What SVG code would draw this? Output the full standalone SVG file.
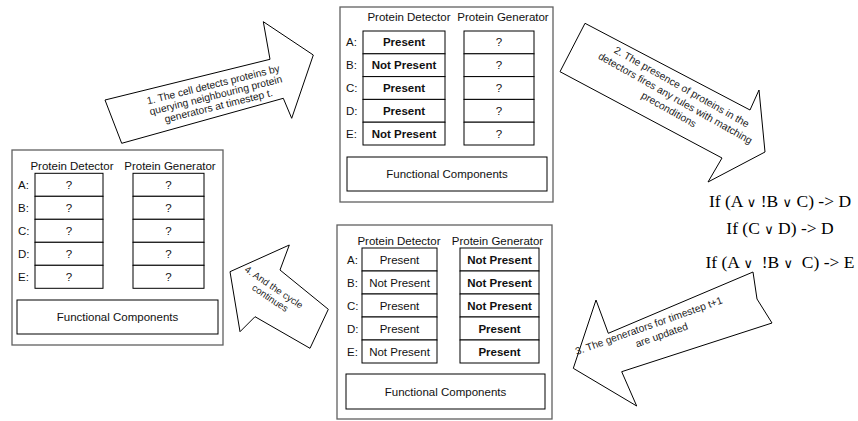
<svg xmlns="http://www.w3.org/2000/svg" width="858" height="421" viewBox="0 0 858 421">
<style>
.outer{fill:#fff;stroke:#606060;stroke-width:1.3}
.cell{fill:#fff;stroke:#000;stroke-width:1}
.t{font-family:"Liberation Sans",Arial,sans-serif;font-size:11.5px;fill:#111}
.c{text-anchor:middle}
.b{font-weight:bold}
.arrow{fill:#fff;stroke:#000;stroke-width:1;stroke-linejoin:miter}
.at{font-family:"Liberation Sans",Arial,sans-serif;fill:#222;text-anchor:middle}
.rule{font-family:"Liberation Serif","Times New Roman",serif;font-size:17.5px;fill:#000;text-anchor:middle;white-space:pre}
.or{font-family:"DejaVu Sans",sans-serif;font-size:13px}
</style>
<rect width="858" height="421" fill="#fff"/>

<g id="panel-left">
<rect class="outer" x="12" y="150" width="211" height="195"/>
<text class="t c" x="72" y="170">Protein Detector</text>
<text class="t c" x="170" y="170">Protein Generator</text>
<rect class="cell" x="35" y="173.3" width="68" height="23"/>
<rect class="cell" x="35" y="196.3" width="68" height="23"/>
<rect class="cell" x="35" y="219.3" width="68" height="23"/>
<rect class="cell" x="35" y="242.3" width="68" height="23"/>
<rect class="cell" x="35" y="265.3" width="68" height="23"/>
<rect class="cell" x="133" y="173.3" width="71" height="23"/>
<rect class="cell" x="133" y="196.3" width="71" height="23"/>
<rect class="cell" x="133" y="219.3" width="71" height="23"/>
<rect class="cell" x="133" y="242.3" width="71" height="23"/>
<rect class="cell" x="133" y="265.3" width="71" height="23"/>
<text class="t" x="18" y="189">A:</text>
<text class="t" x="18" y="212">B:</text>
<text class="t" x="18" y="235">C:</text>
<text class="t" x="18" y="258">D:</text>
<text class="t" x="18" y="281">E:</text>
<text class="t c" x="69" y="189">?</text>
<text class="t c" x="69" y="212">?</text>
<text class="t c" x="69" y="235">?</text>
<text class="t c" x="69" y="258">?</text>
<text class="t c" x="69" y="281">?</text>
<text class="t c" x="168.5" y="189">?</text>
<text class="t c" x="168.5" y="212">?</text>
<text class="t c" x="168.5" y="235">?</text>
<text class="t c" x="168.5" y="258">?</text>
<text class="t c" x="168.5" y="281">?</text>
<rect class="cell" x="17" y="300" width="201" height="34"/>
<text class="t c" x="117.5" y="321">Functional Components</text>
</g>

<g id="panel-top">
<rect class="outer" x="340" y="7" width="213" height="195"/>
<text class="t c" x="409" y="21">Protein Detector</text>
<text class="t c" x="503" y="21">Protein Generator</text>
<rect class="cell" x="363" y="31" width="82" height="22.8"/>
<rect class="cell" x="363" y="53.8" width="82" height="22.8"/>
<rect class="cell" x="363" y="76.6" width="82" height="22.8"/>
<rect class="cell" x="363" y="99.4" width="82" height="22.8"/>
<rect class="cell" x="363" y="122.2" width="82" height="22.8"/>
<rect class="cell" x="464" y="31" width="70" height="22.8"/>
<rect class="cell" x="464" y="53.8" width="70" height="22.8"/>
<rect class="cell" x="464" y="76.6" width="70" height="22.8"/>
<rect class="cell" x="464" y="99.4" width="70" height="22.8"/>
<rect class="cell" x="464" y="122.2" width="70" height="22.8"/>
<text class="t" x="346" y="46.4">A:</text>
<text class="t" x="346" y="69.2">B:</text>
<text class="t" x="346" y="92">C:</text>
<text class="t" x="346" y="114.8">D:</text>
<text class="t" x="346" y="137.6">E:</text>
<text class="t c b" x="404" y="46.4">Present</text>
<text class="t c b" x="404" y="69.2">Not Present</text>
<text class="t c b" x="404" y="92">Present</text>
<text class="t c b" x="404" y="114.8">Present</text>
<text class="t c b" x="404" y="137.6">Not Present</text>
<text class="t c" x="499" y="46.4">?</text>
<text class="t c" x="499" y="69.2">?</text>
<text class="t c" x="499" y="92">?</text>
<text class="t c" x="499" y="114.8">?</text>
<text class="t c" x="499" y="137.6">?</text>
<rect class="cell" x="347" y="157" width="200" height="34"/>
<text class="t c" x="447" y="178">Functional Components</text>
</g>

<g id="panel-bottom">
<rect class="outer" x="337" y="225" width="215" height="194"/>
<text class="t c" x="399" y="245">Protein Detector</text>
<text class="t c" x="497.5" y="245">Protein Generator</text>
<rect class="cell" x="362" y="248" width="75" height="23"/>
<rect class="cell" x="362" y="271" width="75" height="23"/>
<rect class="cell" x="362" y="294" width="75" height="23"/>
<rect class="cell" x="362" y="317" width="75" height="23"/>
<rect class="cell" x="362" y="340" width="75" height="23"/>
<rect class="cell" x="460" y="248" width="79" height="23"/>
<rect class="cell" x="460" y="271" width="79" height="23"/>
<rect class="cell" x="460" y="294" width="79" height="23"/>
<rect class="cell" x="460" y="317" width="79" height="23"/>
<rect class="cell" x="460" y="340" width="79" height="23"/>
<text class="t" x="347" y="263.5">A:</text>
<text class="t" x="347" y="286.5">B:</text>
<text class="t" x="347" y="309.5">C:</text>
<text class="t" x="347" y="332.5">D:</text>
<text class="t" x="347" y="355.5">E:</text>
<text class="t c" x="399.5" y="263.5">Present</text>
<text class="t c" x="399.5" y="286.5">Not Present</text>
<text class="t c" x="399.5" y="309.5">Present</text>
<text class="t c" x="399.5" y="332.5">Present</text>
<text class="t c" x="399.5" y="355.5">Not Present</text>
<text class="t c b" x="499.5" y="263.5">Not Present</text>
<text class="t c b" x="499.5" y="286.5">Not Present</text>
<text class="t c b" x="499.5" y="309.5">Not Present</text>
<text class="t c b" x="499.5" y="332.5">Present</text>
<text class="t c b" x="499.5" y="355.5">Present</text>
<rect class="cell" x="346" y="374" width="199" height="35"/>
<text class="t c" x="445.5" y="395.5">Functional Components</text>
</g>

<g id="rules">
<text class="rule" x="780" y="207">If (A <tspan class="or">∨</tspan> !B <tspan class="or">∨</tspan> C) -&gt; D</text>
<text class="rule" x="780" y="234">If (C <tspan class="or">∨</tspan> D) -&gt; D</text>
<text class="rule" x="780" y="268">If (A <tspan class="or">∨</tspan>  !B <tspan class="or">∨</tspan>  C) -&gt; E</text>
</g>

<g id="connectors">
<g id="arrow-1">
<polygon class="arrow" points="105,100 270,59.3 263.3,21.7 313.3,55 291.7,118.3 283.3,98.3 121.7,143.3"/>
<g transform="translate(214,88) rotate(-14)">
<text class="at" font-size="10.3" x="0" y="0">1. The cell detects proteins by</text>
<text class="at" font-size="10.3" x="0" y="11">querying neighbouring protein</text>
<text class="at" font-size="10.3" x="0" y="22">generators at timestep t.</text>
</g>
</g>
<g id="arrow-2">
<polygon class="arrow" points="585,23.3 750,110 759,90 765,152 708,182 722,158 560,71.7"/>
<g transform="translate(680,90) rotate(29.5)">
<text class="at" font-size="10.3" x="0" y="0">2. The presence of proteins in the</text>
<text class="at" font-size="10.3" x="0" y="13">detectors fires any rules with matching</text>
<text class="at" font-size="10.3" x="0" y="26">preconditions</text>
</g>
</g>
<g id="arrow-3">
<polygon class="arrow" points="573.3,368.3 596,300 608.3,333.3 753,272 757,299 772,323 621.7,371.7 636.7,406"/>
<g transform="translate(650,329) rotate(-19.5)">
<text class="at" font-size="10.3" x="0" y="0">3. The generators for timestep t+1</text>
<text class="at" font-size="10.3" x="9" y="13">are updated</text>
</g>
</g>
<g id="arrow-4">
<polygon class="arrow" points="230,271.7 289.3,245 280,270 328.3,309.3 310,348.3 255,316.7 240,331.7"/>
<g transform="translate(272,290) rotate(34)">
<text class="at" font-size="9.6" x="0" y="0">4. And the cycle</text>
<text class="at" font-size="9.6" x="3" y="11">continues</text>
</g>
</g>
</g>
</svg>
